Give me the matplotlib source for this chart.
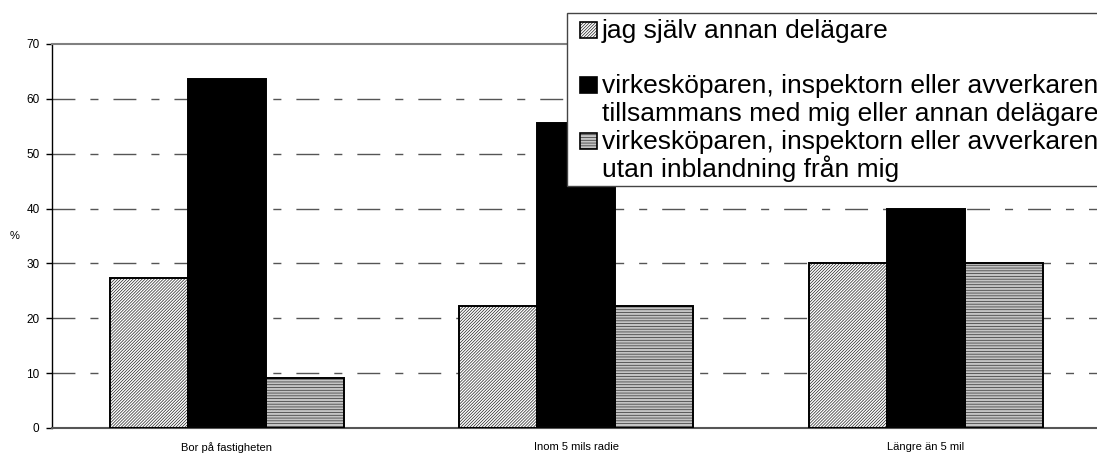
import numpy as np
import matplotlib.pyplot as plt
from matplotlib.patches import Rectangle

plt.rcParams['font.family'] = ['Liberation Sans', 'DejaVu Sans']
plt.rcParams['hatch.linewidth'] = 0.5

categories = ['Bor på fastigheten', 'Inom 5 mils radie', 'Längre än 5 mil']
series_names = ['jag själv annan delägare',
                'virkesköparen, inspektorn eller avverkaren\ntillsammans med mig eller annan delägare',
                'virkesköparen, inspektorn eller avverkaren\nutan inblandning från mig']
egen = [27.3, 22.2, 30.0]
tillsammans = [63.6, 55.6, 40.0]
utan = [9.1, 22.2, 30.0]
yticks = [0, 10, 20, 30, 40, 50, 60, 70]

# fill, hatch, hatch colour per series
styles = [('white', '/' * 11, '#222222'),
          ('black', '', 'black'),
          ('#c4c4c4', '------', '#303030')]

W, H = 1097, 455
fig = plt.figure(figsize=(W / 100, H / 100), dpi=100)
ax = fig.add_axes([52 / W, 1 - 428 / H, 1048.5 / W, 384 / H])

x = np.arange(len(categories))
w = 0.2232
for i, vals in enumerate([egen, tillsammans, utan]):
    fc, hatch, hc = styles[i]
    pos = x + (i - 1) * w
    ax.bar(pos, vals, width=w, color=fc, hatch=hatch, edgecolor=hc, linewidth=0, zorder=2)
    ax.bar(pos, vals, width=w, fill=False, edgecolor='black', linewidth=1.4, zorder=3)

ax.set_xlim(-0.5, 2.5)
ax.set_ylim(0, 70)
ax.set_yticks(yticks)
ax.set_xticks(x)
ax.set_xticklabels(categories, fontsize=8)
ax.tick_params(axis='x', length=0, pad=10)
ax.tick_params(axis='y', length=4, width=1, pad=5, labelsize=8.5, direction='out')

for y in yticks[1:-1]:
    ax.axhline(y, color='#555555', linewidth=1.0, dashes=(16.5, 10.8, 5.8, 10.8), zorder=1)

ax.spines['right'].set_visible(False)
ax.spines['top'].set_color('#808080')
ax.spines['top'].set_linewidth(1.5)
ax.spines['bottom'].set_color('#555555')
ax.spines['bottom'].set_linewidth(1.5)
ax.spines['left'].set_color('black')
ax.spines['left'].set_linewidth(1.0)

fig.text(15 / W, 1 - 236 / H, '%', fontsize=8, ha='center', va='center')

# legend box drawn in figure pixels
def fx(px):
    return px / W

def fy(py):
    return 1 - py / H

fig.add_artist(Rectangle((fx(567), fy(186)), fx(1115) - fx(567), fy(13) - fy(186),
                         transform=fig.transFigure, facecolor='white', edgecolor='#444444',
                         linewidth=1.0, zorder=5))
baselines = [[38], [93, 121], [149, 177]]
for i, name in enumerate(series_names):
    fc, hatch, hc = styles[i]
    b = baselines[i][0]
    box = ((fx(580), fy(b)), fx(597) - fx(580), fy(b - 16) - fy(b))
    fig.add_artist(Rectangle(*box, transform=fig.transFigure, facecolor=fc, hatch=hatch,
                             edgecolor=hc, linewidth=0, zorder=6))
    fig.add_artist(Rectangle(*box, transform=fig.transFigure, fill=False, edgecolor='black',
                             linewidth=1.2, zorder=7))
    for line, yb in zip(name.split('\n'), baselines[i]):
        fig.text(fx(602), fy(yb), line, fontsize=19, ha='left', va='baseline', zorder=8)

fig.savefig('out.png', dpi=100)
plt.close(fig)
